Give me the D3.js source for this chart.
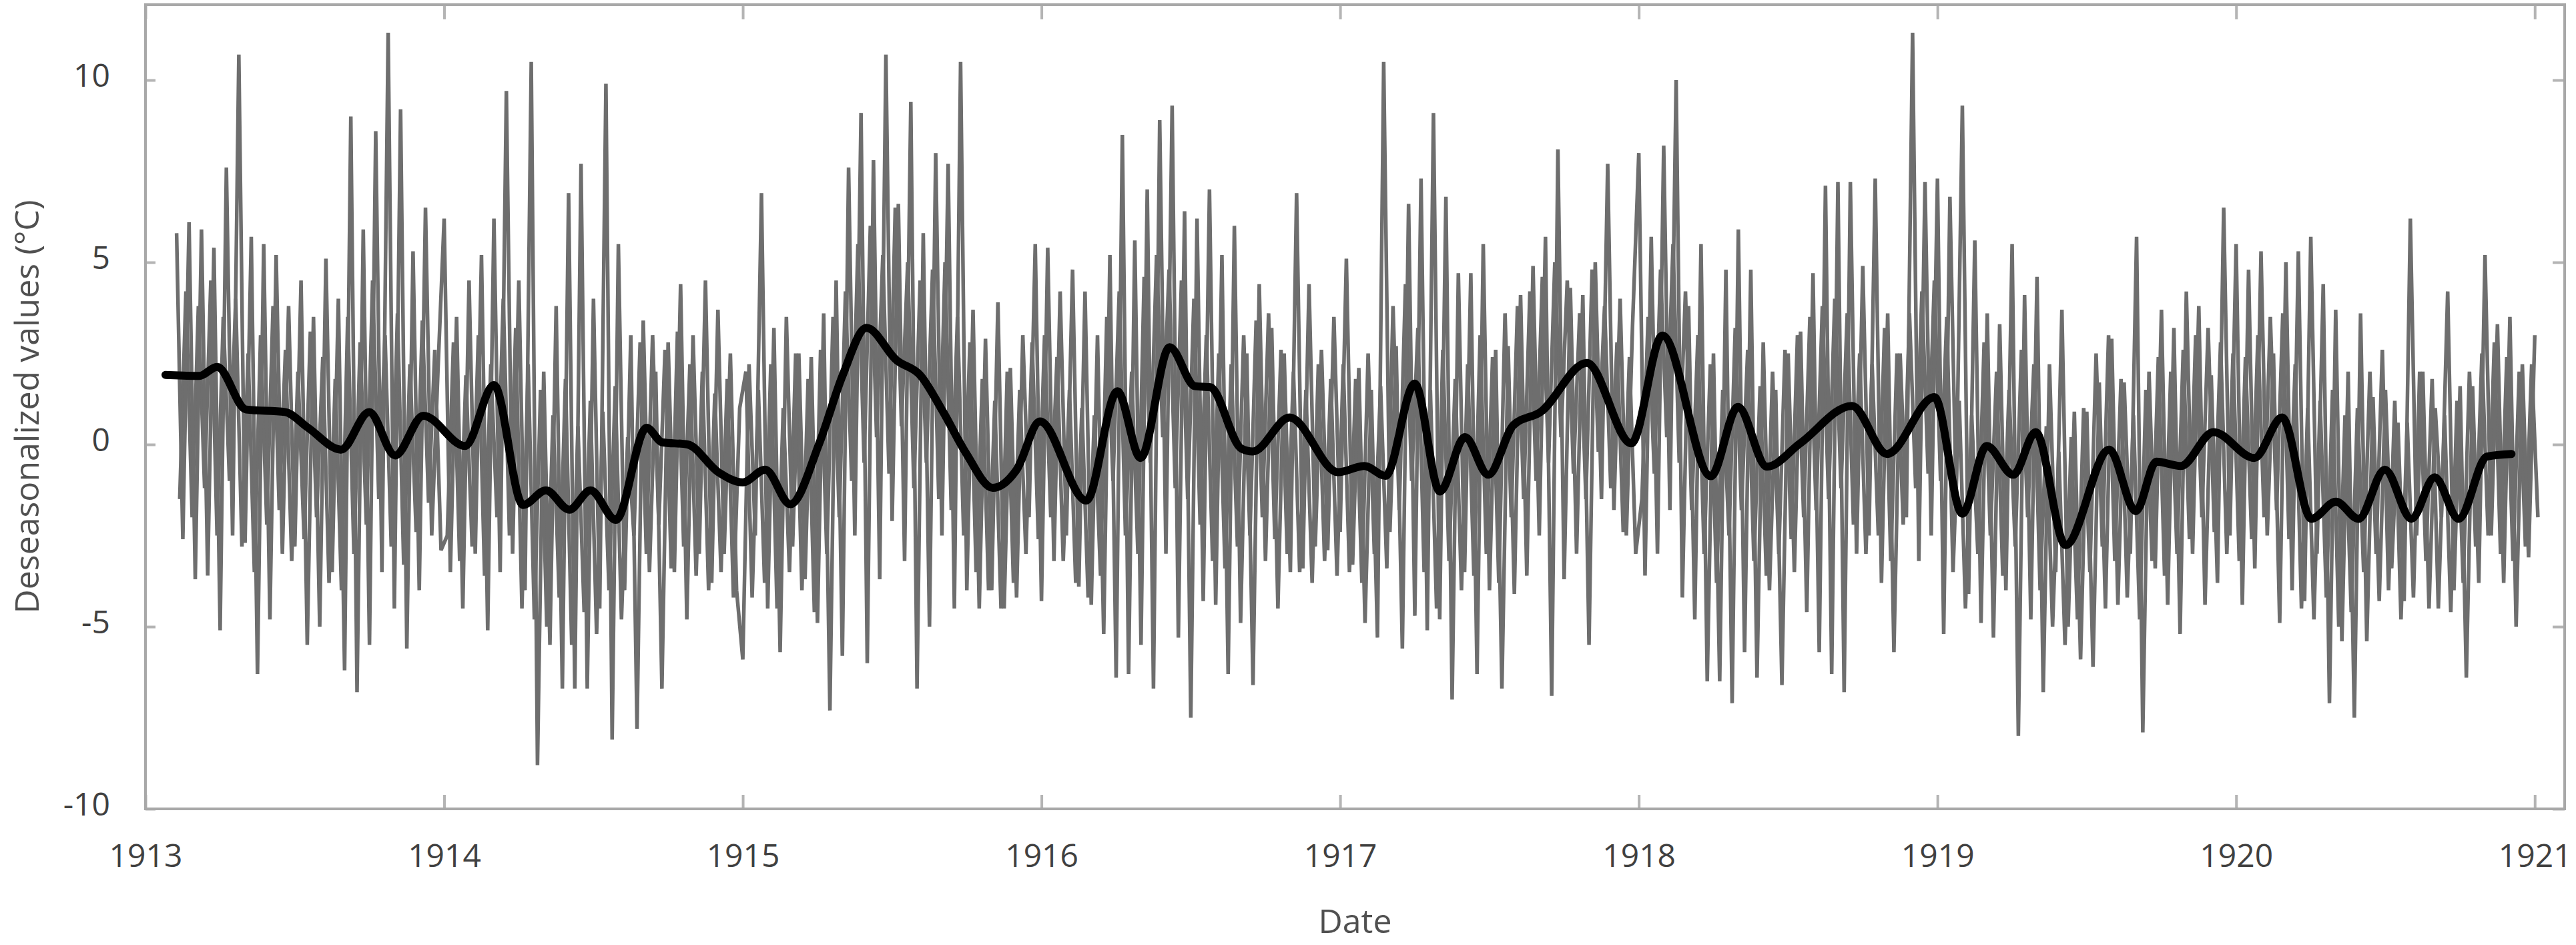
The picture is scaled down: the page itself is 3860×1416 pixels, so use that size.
<!DOCTYPE html>
<html>
<head>
<meta charset="utf-8">
<script src="https://d3js.org/d3.v7.min.js"></script>
<style>
body { margin: 0; background: #fff; }
svg { display: block; }
text { font-family: 'Open Sans', sans-serif; fill: #404040; }
.tick line { stroke: #b4b4b4; stroke-width: 4; }
</style>
</head>
<body>
<div id="plot"></div>
<script>

var width = 3860;
var height = 1416;

// Grey series: one value every 1/48 year.
// The "spike" arrays hold the tops and bottoms of the tall spikes,
// the "core" arrays the swings inside the dense middle of the band (half a step later).
// greyFirstStep = index of the first sample in that year.
var greyYears = [1913, 1914, 1915, 1916, 1917, 1918, 1919, 1920];
var greyFirstStep = [5, 0, 0, 0, 0, 0, 0, 0];

var spike1913 = [5.8, -2.6, 6.1, -3.7, 5.9, -3.6, 5.4, -5.1, 7.6, -2.5, 10.7, -2.7, 5.7, -6.3, 5.5,
  -4.8, 5.2, -3.0, 3.8, -2.8, 4.5, -5.5, 3.5, -5.0, 5.1, -3.5, 4.0, -6.2, 9.0, -6.8, 5.9, -5.5,
  8.6, -3.5, 11.3, -4.5, 9.2, -5.6, 5.3, -4.0, 6.5, -2.5, 2.0];
var spike1914 = [6.2, -3.5, 3.5, -4.5, 4.5, -3.0, 5.2, -5.1, 6.2, -3.5, 9.7, -3.0, 4.5, -4.0, 10.5,
  -8.8, 2.0, -5.5, 3.8, -6.7, 6.9, -6.7, 7.7, -6.7, 4.0, -4.5, 9.9, -8.1, 5.5, -4.0, 3.0, -7.8,
  3.4, -3.5, 2.0, -6.7, 2.8, -3.5, 4.4, -4.8, 3.0, -3.0, 4.5, -3.8, 3.7, -3.0, 2.5, -4.0];
var spike1915 = [-5.9, 2.2, -2.5, 6.9, -4.5, 3.2, -5.7, 3.5, -2.8, 2.5, -3.7, 2.4, -4.9, 3.6, -7.3,
  4.5, -5.8, 7.6, -2.5, 9.1, -6.0, 7.8, -3.7, 10.7, -2.1, 6.6, -3.2, 9.4, -6.7, 5.8, -5.0, 8.0,
  -2.5, 7.7, -4.5, 10.5, -4.0, 3.7, -4.5, 2.9, -4.0, 3.9, -4.5, 2.1, -4.2, 3.0, -2.0, 5.5];
var spike1916 = [-4.3, 5.4, -3.2, 4.2, -2.5, 4.8, -3.9, 4.2, -4.4, 3.0, -5.2, 5.2, -6.4, 8.5, -6.3,
  5.6, -5.5, 7.0, -6.7, 8.9, -3.0, 9.3, -5.3, 6.4, -7.5, 6.2, -4.3, 7.0, -4.4, 5.2, -6.3, 6.0,
  -4.9, 2.5, -6.6, 4.4, -3.2, 3.2, -4.5, 2.5, -3.5, 6.9, -3.4, 4.4, -2.8, 2.6, -2.9, 3.5];
var spike1917 = [-2.4, 5.1, -3.3, 2.1, -4.9, 1.5, -5.3, 10.5, -2.4, 2.7, -5.6, 6.6, -4.7, 7.3, -5.1,
  9.1, -4.8, 6.8, -7.0, 4.7, -3.5, 4.7, -6.3, 5.5, -4.0, 2.6, -6.7, 2.7, -4.1, 4.1, -3.6, 4.9,
  -2.5, 5.7, -6.9, 8.1, -3.7, 4.3, -3.0, 4.1, -5.5, 5.0, -1.5, 7.7, -1.8, 4.0, -2.5, 3.3];
var spike1918 = [8.0, -3.6, 5.7, -3.0, 8.2, -1.8, 10.0, -4.2, 3.8, -4.8, 5.5, -6.5, 2.5, -6.5, 4.8,
  -7.1, 5.9, -5.7, 4.8, -6.4, 2.8, -4.0, 1.5, -6.6, 2.5, -3.5, 3.1, -4.6, 4.7, -5.7, 7.1, -6.3,
  7.2, -6.8, 7.2, -3.0, 4.9, -2.5, 7.3, -3.8, 3.6, -5.7, 2.5, -2.0, 11.3, -3.2, 7.2, -2.5];
var spike1919 = [7.3, -5.2, 6.8, -1.5, 9.3, -4.1, 5.6, -4.9, 3.6, -5.3, 3.3, -4.0, 5.5, -8.0, 4.1,
  -4.8, 4.6, -6.8, 2.2, -3.5, 3.7, -5.0, 0.9, -5.9, 0.9, -6.1, 1.7, -4.5, 2.9, -4.4, 1.7, -3.0,
  5.7, -7.9, 2.0, -3.4, 3.7, -4.4, 3.2, -5.2, 4.2, -3.0, 3.8, -4.4, 1.9, -3.8, 6.5, -2.5];
var spike1920 = [5.5, -4.4, 4.8, -3.4, 5.3, -2.5, 2.5, -4.9, 5.0, -4.0, 5.3, -4.3, 5.7, -3.0, 4.4,
  -7.1, 3.7, -5.4, 2.0, -7.5, 3.6, -5.4, 1.3, -4.3, 1.5, -3.4, 0.6, -4.3, 6.2, -2.5, 2.0, -4.5,
  1.0, -2.0, 4.2, -4.0, 1.6, -6.4, 1.6, -3.8, 5.2, -2.5, 3.3, -3.8, 3.5, -5.0, 2.2, -3.1, 3.0];

var core1913 = [-1.5, 4.2, -2.0, 3.8, -1.2, 4.5, -2.5, 3.5, -1.0, 4.0, -2.8, 2.5, -3.5, 3.0, -2.2,
  3.8, -1.8, 2.6, -3.2, 2.0, -2.6, 3.1, -2.0, 2.4, -3.8, 1.8, -4.0, 3.5, -3.0, 2.8, -2.2, 4.5,
  -1.5, 3.0, -2.8, 3.6, -3.3, 2.2, -2.4, 3.4, -1.6, 2.6, -2.9];
var core1914 = [-2.5, 2.8, -3.2, 1.9, -2.8, 3.0, -3.6, 2.2, -2.0, 4.0, -2.5, 3.2, -4.5, 2.2, -4.8,
  1.5, -5.0, 0.8, -4.2, 1.8, -5.5, 0.5, -4.6, 1.2, -5.2, 0.9, -4.0, 1.6, -4.8, 0.2, -2.5, 2.8,
  -3.0, 3.0, -2.2, 2.6, -3.4, 3.1, -2.8, 2.2, -3.6, 2.0, -4.0, 1.4, -3.5, 1.8, -4.2, 1.0];
var core1915 = [2.0, -4.2, 1.5, -3.8, 2.2, -4.5, 1.0, -3.5, 2.5, -4.0, 1.8, -4.6, 2.6, -3.0, 3.5,
  -2.0, 4.2, -1.0, 5.5, -0.5, 6.0, 0.2, 5.2, -0.8, 6.5, 0.5, 5.0, -1.2, 4.5, -0.5, 4.8, -1.5,
  5.0, -1.8, 3.5, -2.5, 2.8, -3.5, 1.8, -4.0, 1.2, -4.5, 2.0, -3.8, 1.5, -3.0, 2.8, -2.6];
var core1916 = [3.0, -2.0, 2.4, -3.2, 1.5, -3.8, 1.0, -4.2, 0.8, -3.6, 3.5, -1.0, 4.2, -2.5, 2.0,
  -3.0, 4.6, -0.5, 5.2, 0.2, 4.8, -1.2, 4.5, -1.5, 4.0, -2.2, 3.0, -3.2, 2.5, -3.4, 2.2, -2.8,
  3.0, -2.5, 3.4, -2.0, 3.6, -2.6, 2.6, -3.0, 2.0, -3.5, 1.5, -3.8, 2.2, -3.2, 1.8, -3.6];
var core1917 = [2.2, -3.5, 1.8, -3.8, 2.5, -3.0, 1.6, -3.4, 3.8, -1.8, 4.4, -1.0, 3.2, -3.5, 1.5,
  -4.5, 2.6, -3.2, 1.8, -4.0, 2.2, -3.6, 3.0, -3.0, 2.4, -3.8, 3.6, -2.0, 3.8, -1.5, 4.2, -1.0,
  4.6, -0.5, 5.0, 0.2, 4.5, -0.8, 3.6, -1.5, 4.8, -0.2, 3.8, -1.2, 2.8, -2.4, 2.4, -3.0];
var core1918 = [-1.5, 3.5, -0.8, 4.8, 0.2, 5.5, -0.5, 4.2, -1.8, 3.0, -3.0, 2.2, -3.8, 1.5, -2.5,
  3.2, -1.8, 2.6, -3.2, 1.6, -3.6, 2.0, -3.0, 2.6, -2.6, 3.0, -2.0, 3.5, -1.8, 3.8, -1.5, 4.0,
  -1.2, 3.6, -2.2, 2.5, -3.0, 2.2, -2.5, 3.2, -3.2, 2.5, -2.2, 3.6, -1.2, 4.2, -0.8, 4.5];
var core1919 = [-1.0, 3.5, -3.5, 1.2, -4.5, 0.8, -3.0, 2.8, -2.5, 2.0, -3.6, 1.5, -2.8, 2.6, -2.0,
  2.2, -4.0, 0.5, -5.0, -0.2, -5.5, 0.2, -4.8, 1.0, -3.5, 2.5, -2.8, 3.0, -3.2, 1.8, -4.2, 0.8,
  -4.8, 1.5, -3.2, 2.4, -3.6, 2.0, -3.0, 2.6, -2.6, 3.0, -2.0, 3.2, -2.4, 2.8, -3.0, 2.5];
var core1920 = [-3.2, 2.4, -2.6, 3.0, -2.0, 3.5, -1.8, 3.6, -2.6, 2.2, -4.5, 1.0, -4.8, 1.2, -4.2,
  1.5, -5.0, 0.8, -4.6, 1.0, -3.5, 2.0, -3.0, 2.6, -4.0, 1.2, -4.8, 0.6, -4.2, 2.0, -3.2, 1.8,
  -4.5, 0.8, -4.6, 1.2, -3.8, 2.0, -2.8, 2.5, -2.5, 2.8, -3.0, 2.4, -3.2, 2.0, -2.8, 2.2, -2.0];

var spikeValues = [spike1913, spike1914, spike1915, spike1916, spike1917, spike1918, spike1919, spike1920];
var coreValues = [core1913, core1914, core1915, core1916, core1917, core1918, core1919, core1920];

// Smoothed series: turning points.
var smoothDates = [1913.067, 1913.18, 1913.24, 1913.337, 1913.467, 1913.544, 1913.655, 1913.749,
  1913.836, 1913.93, 1914.07, 1914.167, 1914.264, 1914.341, 1914.419, 1914.49, 1914.575, 1914.678,
  1914.73, 1914.815, 1914.918, 1915.0, 1915.075, 1915.159, 1915.256, 1915.334, 1915.414, 1915.515,
  1915.593, 1915.671, 1915.749, 1915.837, 1915.917, 1915.995, 1916.15, 1916.254, 1916.332, 1916.429,
  1916.514, 1916.565, 1916.669, 1916.708, 1916.831, 1916.993, 1917.081, 1917.152, 1917.25, 1917.334,
  1917.418, 1917.496, 1917.58, 1917.671, 1917.826, 1917.975, 1918.079, 1918.241, 1918.332, 1918.429,
  1918.54, 1918.714, 1918.831, 1918.99, 1919.083, 1919.165, 1919.254, 1919.329, 1919.429, 1919.575,
  1919.664, 1919.733, 1919.815, 1919.924, 1920.061, 1920.154, 1920.252, 1920.334, 1920.41, 1920.498,
  1920.587, 1920.665, 1920.745, 1920.84, 1920.922];
var smoothValues = [1.91, 1.88, 2.13, 0.96, 0.89, 0.46, -0.14, 0.89,
  -0.3, 0.79, -0.04, 1.63, -1.66, -1.26, -1.79, -1.26, -2.07, 0.46,
  0.06, 0.0, -0.76, -1.04, -0.69, -1.64, 0.03, 1.89, 3.2, 2.31,
  1.91, 0.89, -0.26, -1.19, -0.69, 0.63, -1.54, 1.46, -0.37, 2.67,
  1.6, 1.57, -0.11, -0.19, 0.74, -0.76, -0.59, -0.86, 1.67, -1.29,
  0.2, -0.83, 0.53, 0.89, 2.24, 0.03, 2.99, -0.87, 1.03, -0.61,
  0.03, 1.06, -0.26, 1.3, -1.9, -0.04, -0.83, 0.34, -2.76, -0.14,
  -1.83, -0.47, -0.59, 0.34, -0.37, 0.74, -2.04, -1.57, -2.04, -0.69,
  -2.04, -0.9, -2.04, -0.33, -0.26];

var xTicks = [1913, 1914, 1915, 1916, 1917, 1918, 1919, 1920, 1921];
var yTicks = [-10, -5, 0, 5, 10];

var plotLeft = 218, plotRight = 3843, plotTop = 7, plotBottom = 1212;

var svg = d3.select("#plot").append("svg").attr("width", width).attr("height", height);

var xScale = d3.scaleLinear().domain([1913, 1921.1]).range([plotLeft, plotRight]);
var yScale = d3.scaleLinear().domain([-10, 12.07]).range([plotBottom, plotTop]);

function toPoints(arrays, shift) {
	var pts = [];
	arrays.forEach(function (vals, j) {
		vals.forEach(function (v, i) {
			pts.push({ date: greyYears[j] + (greyFirstStep[j] + i + shift) / 48, value: v });
		});
	});
	return pts;
}

var spikePoints = toPoints(spikeValues, 0);
var corePoints = toPoints(coreValues, 0.5);

var smoothPoints = smoothDates.map(function (d, i) { return { date: d, value: smoothValues[i] }; });

var line = d3.line()
.x(function (d) { return xScale(d.date); })
.y(function (d) { return yScale(d.value); });

[corePoints, spikePoints].forEach(function (pts) {
	svg.append("path")
	.datum(pts)
	.attr("d", line)
	.style("fill", "none")
	.style("stroke", "#6e6e6e")
	.style("stroke-width", 5.5)
	.style("stroke-linejoin", "miter");
});

svg.append("path")
.datum(smoothPoints)
.attr("d", line.curve(d3.curveMonotoneX))
.style("fill", "none")
.style("stroke", "#000")
.style("stroke-width", 12)
.style("stroke-linecap", "round");

// axes: ticks point inward on all four sides
var fmt = function (d) { return String(d); };

svg.append("g").attr("transform", "translate(0," + plotBottom + ")")
.call(d3.axisBottom(xScale).tickValues(xTicks).tickFormat(fmt).tickSizeInner(-21).tickSizeOuter(0).tickPadding(53));
var leftAxis = svg.append("g").attr("transform", "translate(" + plotLeft + ",0)")
.call(d3.axisLeft(yScale).tickValues(yTicks).tickFormat(fmt).tickSizeInner(-15).tickSizeOuter(0).tickPadding(53));
svg.append("g").attr("transform", "translate(0," + plotTop + ")")
.call(d3.axisTop(xScale).tickValues(xTicks).tickFormat("").tickSizeInner(-22).tickSizeOuter(0));
svg.append("g").attr("transform", "translate(" + plotRight + ",0)")
.call(d3.axisRight(yScale).tickValues(yTicks).tickFormat("").tickSizeInner(-18).tickSizeOuter(0));

svg.selectAll(".domain").remove();
svg.selectAll(".tick text")
.style("font-family", "'Open Sans', sans-serif")
.style("font-size", "48px")
.style("fill", "#404040");
leftAxis.selectAll(".tick text").attr("dy", "0.2em");

svg.append("rect")
.attr("x", plotLeft).attr("y", plotTop)
.attr("width", plotRight - plotLeft).attr("height", plotBottom - plotTop)
.style("fill", "none")
.style("stroke", "#a8a8a8")
.style("stroke-width", 4);

svg.append("text")
.attr("x", (plotLeft + plotRight) / 2)
.attr("y", 1398)
.attr("text-anchor", "middle")
.style("font-size", "50px")
.style("fill", "#505050")
.text("Date");

svg.append("text")
.attr("transform", "translate(58," + (plotTop + plotBottom) / 2 + ") rotate(-90)")
.attr("text-anchor", "middle")
.style("font-size", "50px")
.style("fill", "#505050")
.text("Deseasonalized values (°C)");

</script>
</body>
</html>
